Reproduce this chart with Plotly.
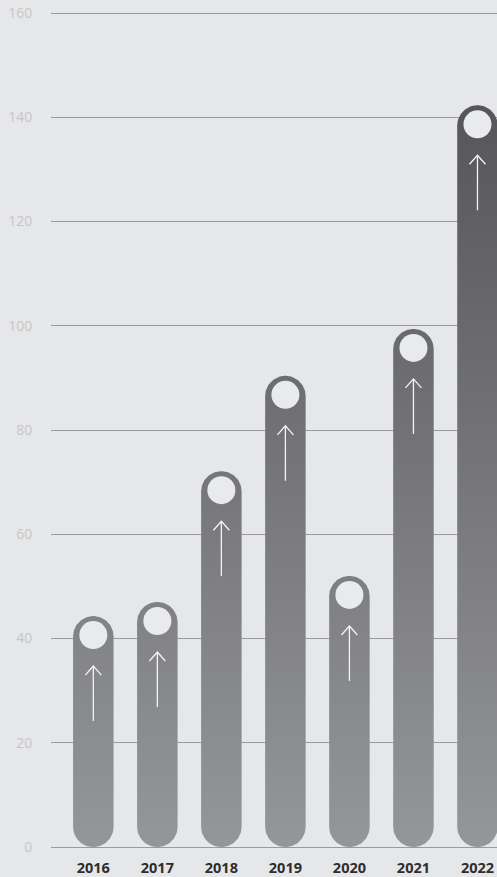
import numpy as np
import plotly.graph_objects as go

# ---- data ----
years = ["2016", "2017", "2018", "2019", "2020", "2021", "2022"]
values = [44.3, 47.0, 72.1, 90.4, 52.0, 99.4, 142.3]
y_ticks = [0, 20, 40, 60, 80, 100, 120, 140, 160]

# ---- layout constants ----
W, H = 497, 877
M_L, M_R, M_T, M_B = 51, 0, 12, 30
Y_RANGE = [0, 160.2]
X_RANGE = [-0.661, 6.305]
BG = "#e6e7e8"

plot_w = W - M_L - M_R
plot_h = H - M_T - M_B
px_x = plot_w / (X_RANGE[1] - X_RANGE[0])   # pixels per x unit
px_y = plot_h / (Y_RANGE[1] - Y_RANGE[0])   # pixels per y unit

BAR_HALF_PX = 20.25
hw = BAR_HALF_PX / px_x
ry = BAR_HALF_PX / px_y

fig = go.Figure()

t = np.linspace(0, np.pi, 40)
for i, v in enumerate(values):
    top_c = v - ry
    xs = np.concatenate([i + hw * np.cos(t), i + hw * np.cos(t + np.pi)])
    ys = np.concatenate([top_c + ry * np.sin(t), ry + ry * np.sin(t + np.pi)])
    xs = np.append(xs, xs[0])
    ys = np.append(ys, ys[0])
    fig.add_trace(go.Scatter(
        x=xs, y=ys, mode="lines", fill="toself",
        line=dict(width=0, color="rgba(0,0,0,0)"),
        fillgradient=dict(type="vertical",
                          colorscale=[[0, "#95969a"], [1, "#555557"]],
                          start=0, stop=145),
        hoverinfo="skip", showlegend=False))

# circles near bar tops
idx = list(range(len(years)))
circle_y = [v - 19 / px_y for v in values]
fig.add_trace(go.Scatter(
    x=idx, y=circle_y, mode="markers",
    marker=dict(size=28, color="#e9eaeb", line=dict(width=0)),
    hoverinfo="skip", showlegend=False))

# arrows
ax_x, ax_y = [], []
for i, cy in enumerate(circle_y):
    tip = cy - 31 / px_y
    tail = tip - 55 / px_y
    ax_x += [i, i, None, i - 8 / px_x, i, i + 8 / px_x, None]
    ax_y += [tail, tip, None, tip - 9 / px_y, tip, tip - 9 / px_y, None]
fig.add_trace(go.Scatter(
    x=ax_x, y=ax_y, mode="lines",
    line=dict(color="#f4f4f4", width=1.3),
    hoverinfo="skip", showlegend=False))

fig.update_layout(
    width=W, height=H,
    margin=dict(l=M_L, r=M_R, t=M_T, b=M_B),
    paper_bgcolor=BG, plot_bgcolor=BG,
    font=dict(family="Open Sans", size=14),
    showlegend=False,
    xaxis=dict(
        range=X_RANGE, tickvals=idx, ticktext=years,
        showgrid=False, zeroline=False, showline=False,
        ticks="outside", ticklen=8, tickcolor="rgba(0,0,0,0)",
        tickfont=dict(family="Open Sans", size=14.5, color="#2e2e2e", weight="bold"),
        fixedrange=True),
    yaxis=dict(
        range=Y_RANGE, tickvals=y_ticks,
        showgrid=True, gridcolor="#9b9b9b", gridwidth=1,
        zeroline=True, zerolinecolor="#9b9b9b", zerolinewidth=1,
        showline=False,
        ticks="outside", ticklen=15, tickcolor="rgba(0,0,0,0)",
        tickfont=dict(family="Open Sans", size=14, color="#c6c6c6"),
        fixedrange=True),
)

fig.write_html(
    "out.html",
    config={"displayModeBar": False},
    post_script="document.body.style.margin='0';document.body.style.overflow='hidden';",
)
